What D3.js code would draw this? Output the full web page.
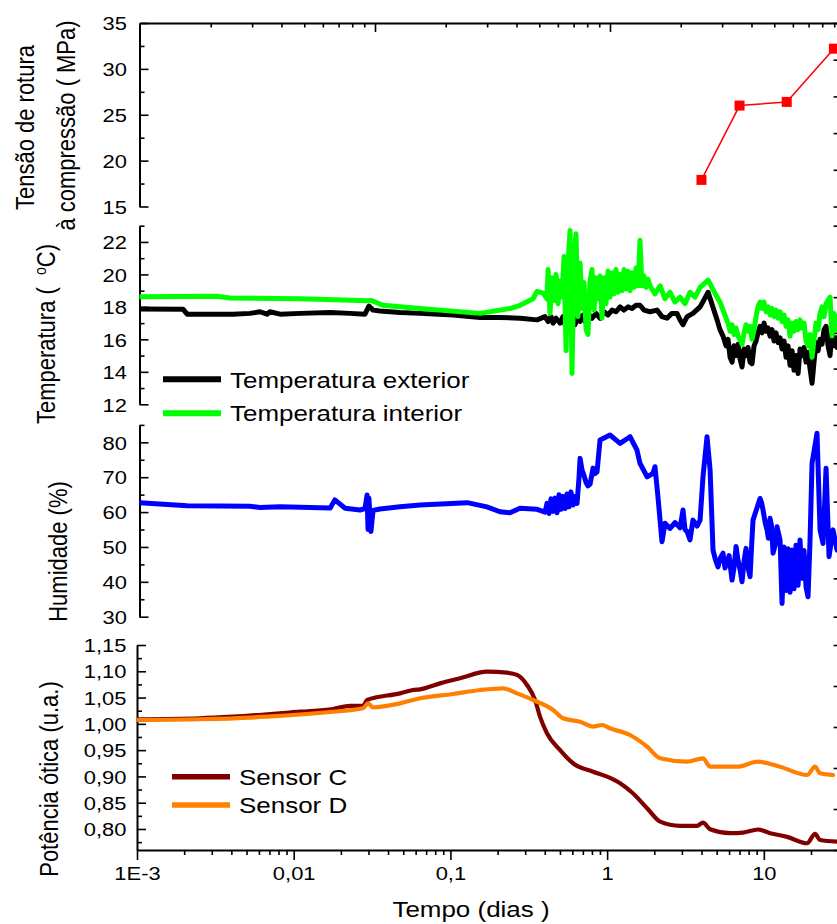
<!DOCTYPE html>
<html>
<head>
<meta charset="utf-8">
<script src="https://cdn.jsdelivr.net/npm/d3@7"></script>
<style>
  html, body { margin: 0; padding: 0; background: #fff; }
  svg { display: block; font-family: "Liberation Sans", Arial, sans-serif; }
  text { white-space: pre; fill: #000; }
</style>
</head>
<body>
<svg id="chart" width="837" height="924"></svg>
<script>
// ---------- data (time in days) ----------
const strengthDays = [4, 7, 14, 28];
const strengthMPa  = [17.9, 26.0, 26.4, 32.2];

const tempExterior = [
  [0.00100,17.87],[0.00197,17.85],[0.00209,17.55],[0.00410,17.55],[0.00526,17.6],[0.00610,17.7],
  [0.00675,17.55],[0.00706,17.7],[0.00818,17.55],[0.0110,17.6],[0.0171,17.65],[0.0229,17.6],
  [0.0285,17.55],[0.0302,18.05],[0.0321,17.8],[0.0355,17.75],[0.0477,17.65],[0.0640,17.6],
  [0.104,17.5],[0.155,17.35],[0.207,17.35],[0.278,17.3],[0.357,17.2],[0.401,17.4],[0.420,17.1],
  [0.438,17.4],[0.452,17.0],[0.472,17.3],[0.501,17.0],[0.523,17.4],[0.539,16.9],[0.563,17.3],
  [0.580,17.0],[0.606,17.4],[0.624,16.9],[0.652,17.5],[0.672,17.1],[0.702,17.5],[0.723,17.1],
  [0.755,17.6],[0.801,17.3],[0.850,17.6],[0.901,17.3],[0.956,17.7],[1.013,17.5],[1.075,17.8],
  [1.14,17.7],[1.21,18.0],[1.28,17.8],[1.36,18.0],[1.44,17.9],[1.53,18.1],[1.62,18.1],[1.72,17.8],
  [1.88,17.7],[2.08,17.8],[2.24,17.4],[2.41,17.3],[2.59,17.6],[2.79,17.6],[2.92,17.2],[3.05,16.9],
  [3.24,17.4],[3.53,17.6],[3.92,18.0],[4.41,18.9],
  [5.03,17.2],[5.25,16.6],[5.49,16.2],[5.74,15.6],[5.91,16.0],[6.09,14.9],[6.27,14.6],[6.45,15.6],
  [6.65,15.0],[6.85,15.7],[7.05,14.8],[7.26,14.3],[7.48,15.4],[7.70,15.0],[7.93,15.5],[8.17,14.6],
  [8.41,14.5],[8.66,15.6],[8.92,15.9],[9.18,16.4],[9.46,16.8],[9.74,16.4],[10.03,17.0],[10.33,16.5],
  [10.64,16.7],[10.96,16.2],[11.28,16.6],[11.62,15.9],[11.96,16.4],[12.32,15.8],[12.69,16.1],
  [13.07,15.4],[13.46,15.9],[13.86,14.9],[14.27,15.6],[14.70,14.4],[15.14,15.3],[15.58,14.1],
  [16.05,15.0],[16.54,13.9],[17.02,15.4],[17.53,15.0],[18.05,15.5],[18.59,14.6],[19.14,15.2],
  [19.72,14.2],[20.31,13.3],[20.91,14.6],[21.54,15.8],[22.18,15.3],[22.84,16.0],[23.52,15.7],
  [24.23,16.6],[24.95,16.8],[25.69,15.6],[26.45,15.0],[27.24,16.4],[28.05,15.6],[28.89,16.1],
  [29.32,15.5]
];

const tempInterior = [
  [0.00100,18.63],[0.00324,18.65],[0.00392,18.55],[0.0110,18.5],[0.0265,18.4],[0.0298,18.38],
  [0.0311,18.4],[0.0371,18.1],[0.0640,17.9],[0.155,17.6],[0.240,17.9],[0.278,18.1],[0.337,18.5],
  [0.357,18.95],[0.390,18.85],[0.413,18.5],
  [0.420,20.3],[0.432,17.6],[0.445,19.8],[0.459,18.4],[0.472,20.0],[0.486,18.2],[0.501,19.6],
  [0.516,18.6],[0.531,21.1],[0.547,15.3],[0.563,20.6],[0.580,22.7],[0.597,13.9],[0.615,21.0],
  [0.633,22.5],[0.652,17.4],[0.672,20.7],[0.692,17.9],[0.712,19.5],[0.734,16.6],[0.755,16.3],
  [0.778,19.6],[0.801,20.3],[0.825,17.8],[0.850,19.8],[0.875,18.5],[0.901,19.9],[0.928,17.3],
  [0.956,19.8],[0.984,18.2],[1.013,20.2],[1.043,18.6],[1.075,20.1],[1.107,18.8],[1.140,20.3],
  [1.174,18.9],[1.209,20.0],[1.245,19.0],[1.282,20.3],[1.320,19.1],[1.359,20.2],[1.400,19.0],
  [1.441,20.1],[1.484,19.2],[1.529,20.4],[1.574,19.3],[1.621,22.1],[1.669,19.3],[1.719,19.9],
  [1.770,19.2],[1.823,19.7],[1.877,19.3],[2.02,18.8],[2.18,19.3],[2.34,18.5],[2.52,18.9],
  [2.71,18.3],[2.92,18.6],[3.14,18.2],[3.38,18.9],[3.64,18.6],[3.92,19.2],[4.41,19.65],
  [5.03,18.6],[5.25,18.3],[5.49,17.8],[5.74,17.3],[5.91,17.0],[6.09,16.5],[6.27,16.9],[6.45,16.3],
  [6.65,16.7],[6.85,16.2],[7.05,16.0],[7.26,15.7],[7.48,16.4],[7.70,16.9],[7.93,16.5],[8.17,16.8],
  [8.41,16.0],[8.66,16.6],[8.92,17.4],[9.18,18.0],[9.46,18.3],[9.74,17.9],[10.03,18.3],[10.33,17.7],
  [10.64,18.0],[10.96,17.5],[11.28,17.9],[11.62,17.4],[11.96,17.8],[12.32,17.3],[12.69,17.7],
  [13.07,17.1],[13.46,17.5],[13.86,16.8],[14.27,17.2],[14.70,16.2],[15.14,17.0],[15.58,16.5],
  [16.05,17.1],[16.54,16.6],[17.02,17.2],[17.53,16.7],[18.05,17.0],[18.59,15.9],[19.14,15.6],
  [19.72,16.3],[20.31,14.9],[20.91,16.0],[21.54,17.0],[22.18,16.6],[22.84,17.6],[23.52,18.0],
  [24.23,17.4],[24.95,18.2],[25.69,18.4],[26.45,18.6],[27.24,16.2],[28.05,17.6],[28.89,16.6],
  [29.32,17.4]
];

const humidity = [
  [0.00104,62.7],[0.00209,61.8],[0.00526,61.7],[0.00610,61.3],[0.00818,61.5],[0.0110,61.4],
  [0.0171,61.2],[0.0183,63.5],[0.0213,61.1],[0.0265,60.6],[0.0285,61.0],[0.0294,64.9],[0.0298,55.0],
  [0.0302,64.0],[0.0311,54.4],[0.0321,60.5],[0.0355,60.9],[0.0477,61.5],[0.0640,62.0],[0.128,62.7],
  [0.171,61.5],[0.207,60.1],[0.240,59.8],[0.278,61.1],[0.357,60.8],
  [0.402,60.0],[0.4135,62.5],[0.426,59.6],[0.4385,63.8],[0.452,60.2],[0.465,64.0],[0.479,59.8],
  [0.493,65.0],[0.508,60.8],[0.523,64.5],[0.539,61.0],[0.555,65.2],[0.571,61.5],[0.588,65.8],
  [0.606,62.0],[0.624,64.5],[0.643,62.5],[0.662,70.0],[0.672,75.4],[0.692,72.0],[0.712,70.5],
  [0.734,68.5],[0.755,67.5],[0.778,68.0],[0.801,71.0],[0.813,72.6],[0.837,71.0],[0.862,71.5],
  [0.901,80.7],[1.043,82.1],[1.21,79.7],[1.40,81.6],[1.55,77.8],[1.62,74.0],[1.80,70.1],[1.96,71.1],
  [2.02,73.0],[2.11,64.4],[2.24,51.5],[2.34,56.8],[2.52,55.3],[2.71,57.0],[2.92,55.5],[3.05,60.6],
  [3.14,55.0],[3.24,54.4],[3.38,52.0],[3.53,57.7],[3.75,56.0],[3.92,57.7],[4.09,70.1],[4.34,81.6],
  [4.54,72.1],[4.74,49.1],[4.90,46.5],[5.10,44.3],[5.30,47.0],[5.49,48.2],[5.65,44.0],[5.82,45.3],
  [6.00,47.5],[6.27,40.5],[6.45,44.0],[6.65,50.1],[6.85,46.0],[7.05,43.5],[7.26,40.0],[7.48,46.0],
  [7.70,49.6],[7.93,44.0],[8.17,41.5],[8.35,50.0],[8.53,57.7],[9.46,63.9],[9.70,62.5],[9.88,60.6],
  [10.20,57.0],[10.48,54.9],[10.70,52.5],[10.96,58.2],[11.20,56.0],[11.45,48.2],[11.80,50.5],
  [12.14,55.8],[12.40,54.0],[12.69,52.0],[13.07,33.8],[13.46,50.0],[13.86,37.5],[14.27,49.5],
  [14.70,37.0],[15.14,49.1],[15.58,38.0],[16.05,50.5],[16.54,39.0],[17.02,52.0],[17.53,41.0],
  [18.05,49.0],[18.59,38.5],[19.14,35.7],[19.72,52.0],[20.31,74.0],[21.85,82.6],[22.84,54.9],
  [23.87,51.0],[24.95,72.6],[26.07,47.2],[27.65,54.9],[29.32,49.1]
];

const sensorC = [
  [0.00100,1.0087],[0.00252,1.0106],[0.00410,1.0136],[0.0110,1.0231],[0.0178,1.0283],[0.0229,1.034],
  [0.0277,1.034],[0.0294,1.0454],[0.0477,1.058],[0.0577,1.0644],[0.0640,1.0657],[0.0859,1.077],
  [0.115,1.0867],[0.171,1.0992],[0.230,1.0973],[0.266,1.093],[0.308,1.074],[0.347,1.0454],
  [0.373,1.0136],[0.413,0.982],[0.501,0.950],[0.606,0.925],[0.813,0.909],[0.999,0.8995],[1.21,0.887],
  [1.46,0.868],[1.80,0.8394],[2.18,0.814],[2.92,0.806],[3.75,0.806],[4.09,0.812],[4.54,0.7994],
  [6.09,0.792],[7.37,0.793],[9.18,0.799],[10.96,0.792],[14.07,0.785],[18.87,0.7728],[21.22,0.7905],
  [22.84,0.779],[29.32,0.776]
];

const sensorD = [
  [0.00100,1.0073],[0.00252,1.0087],[0.00675,1.0136],[0.0178,1.023],[0.0277,1.0296],[0.0298,1.039],
  [0.0321,1.0315],[0.0477,1.039],[0.0640,1.0486],[0.104,1.0568],[0.155,1.0644],[0.217,1.0676],
  [0.266,1.058],[0.337,1.0454],[0.452,1.0264],[0.523,1.0106],[0.672,1.0041],[0.813,0.9946],
  [0.928,0.9978],[1.043,0.9915],[1.40,0.9788],[1.80,0.9566],[2.18,0.9345],[3.24,0.928],[4.09,0.9345],
  [4.54,0.9185],[6.75,0.9185],[9.18,0.928],[12.69,0.9185],[18.87,0.9027],[21.22,0.9185],
  [22.84,0.906],[27.65,0.9027]
];

// ---------- tick values and labels ----------
const timeTicks  = [0.001, 0.01, 0.1, 1, 10];
const timeLabels = ["1E-3", "0,01", "0,1", "1", "10"];
const strengthTicks  = [15, 20, 25, 30, 35];
const strengthLabels = ["15", "20", "25", "30", "35"];
const tempTicks  = [12, 14, 16, 18, 20, 22];
const tempLabels = ["12", "14", "16", "18", "20", "22"];
const humTicks  = [30, 40, 50, 60, 70, 80];
const humLabels = ["30", "40", "50", "60", "70", "80"];
const powTicks  = [0.80, 0.85, 0.90, 0.95, 1.00, 1.05, 1.10, 1.15];
const powLabels = ["0,80", "0,85", "0,90", "0,95", "1,00", "1,05", "1,10", "1,15"];

// ---------- layout ----------
const SX = 1.18;            // horizontal aspect of the lettering
const TICK_FONT = 18.6;
const TITLE_FONT = 22;
const RIGHT = 838.6;

const svg = d3.select("#chart");
svg.append("rect").attr("width", 837).attr("height", 924).attr("fill", "#fff");

const x = d3.scaleLog().domain([0.001, 30]).range([137, RIGHT]);
const xTop = d3.scaleLog().domain([1, 1000]).range([140, 845]);

const yStrength = d3.scaleLinear().domain([15, 35]).range([206.5, 23]);
const yTemp = d3.scaleLinear().domain([12, 23]).range([404.3, 225.7]);
const yHum = d3.scaleLinear().domain([30, 85]).range([616.7, 424.9]);
const yPow = d3.scaleLinear().domain([0.76, 1.15]).range([850, 645]);

const minorLog = (lo, hi) => {
  const out = [];
  for (let p = lo; p < hi; p++) for (let m = 2; m <= 9; m++) out.push(m * Math.pow(10, p));
  return out;
};

function styleAxis(g) {
  g.attr("font-family", null).attr("font-size", TICK_FONT);
  g.selectAll(".tick line").attr("stroke", "#000").attr("stroke-width", 1.6);
  g.selectAll(".domain").attr("stroke", "#000").attr("stroke-width", 2);
  g.selectAll(".tick text").attr("fill", "#000");
}

function stretchTickText(g) {
  g.selectAll(".tick text").each(function () {
    const t = d3.select(this);
    const tx = +t.attr("x") || 0, ty = +t.attr("y") || 0;
    t.attr("x", 0).attr("y", 0).attr("transform", `translate(${tx},${ty}) scale(${SX},1)`);
  });
}

function leftAxis(scale, xPos, majors, labels, minors, pad) {
  const g = svg.append("g").attr("transform", `translate(${xPos},0)`);
  g.call(d3.axisLeft(scale).tickValues(majors).tickSize(-9).tickSizeOuter(0)
    .tickPadding(pad).tickFormat((d, i) => labels[i]));
  const gm = g.append("g").call(d3.axisLeft(scale).tickValues(minors).tickSize(-5).tickFormat(() => ""));
  gm.select(".domain").remove();
  styleAxis(g);
  g.selectAll(".tick text").attr("dy", "0.36em");
  stretchTickText(g);
}

function rightTicks(scale) {
  const r = d3.scaleLinear().domain([0, 5]).range(scale.range());
  const g = svg.append("g").attr("transform", `translate(${RIGHT},0)`)
    .call(d3.axisLeft(r).tickValues([0, 1, 2, 3, 4, 5]).tickSize(5).tickFormat(() => ""));
  g.select(".domain").remove();
  styleAxis(g);
}

// left axes
leftAxis(yStrength, 139.5, strengthTicks, strengthLabels, [17.5, 22.5, 27.5, 32.5], 12.5);
leftAxis(yTemp, 139.5, tempTicks, tempLabels, [13, 15, 17, 19, 21, 23], 12.5);
leftAxis(yHum, 139.5, humTicks, humLabels, [35, 45, 55, 65, 75, 85], 12.5);
leftAxis(yPow, 137, powTicks, powLabels, [0.775, 0.825, 0.875, 0.925, 0.975, 1.025, 1.075, 1.125], 10.5);

// right-side ticks
[yStrength, yTemp, yHum, yPow].forEach(rightTicks);

// top axis of the upper panel
{
  const g = svg.append("g").attr("transform", "translate(0,23)");
  g.call(d3.axisTop(xTop).tickValues([10, 100]).tickSize(-9).tickSizeOuter(0).tickFormat(() => ""));
  const gm = g.append("g").call(d3.axisTop(xTop).tickValues(minorLog(0, 3)).tickSize(-4.5).tickFormat(() => ""));
  gm.select(".domain").remove();
  styleAxis(g);
}

// bottom time axis
{
  const g = svg.append("g").attr("transform", "translate(0,850)");
  g.call(d3.axisBottom(x).tickValues(timeTicks).tickSize(10).tickSizeOuter(0)
    .tickFormat((d, i) => timeLabels[i]));
  const gm = g.append("g").call(d3.axisBottom(x).tickValues(minorLog(-3, 2).filter(v => v <= 30)).tickSize(5).tickFormat(() => ""));
  gm.select(".domain").remove();
  styleAxis(g);
  g.selectAll(".tick text").attr("y", 30).attr("dy", 0);
  stretchTickText(g);
}

// ---------- series ----------
function clipFor(id, scale, left) {
  const r = scale.range();
  svg.append("clipPath").attr("id", id).append("rect")
    .attr("x", left).attr("y", r[1] - 3).attr("width", RIGHT - left).attr("height", r[0] - r[1] + 6);
  return `url(#${id})`;
}

function drawLine(data, scale, color, width, clip, curve) {
  svg.append("path").datum(data)
    .attr("clip-path", clip)
    .attr("fill", "none").attr("stroke", color).attr("stroke-width", width)
    .attr("stroke-linejoin", "round").attr("stroke-linecap", "round")
    .attr("d", d3.line().curve(curve || d3.curveLinear).x(d => x(d[0])).y(d => scale(d[1])));
}

const clipT = clipFor("clipT", yTemp, 139.5);
const clipH = clipFor("clipH", yHum, 139.5);
const clipP = clipFor("clipP", yPow, 137);

drawLine(tempExterior, yTemp, "#000000", 5, clipT);
drawLine(tempInterior, yTemp, "#00ff00", 5, clipT);
drawLine(humidity, yHum, "#0000ff", 5, clipH);
drawLine(sensorC, yPow, "#800000", 4.2, clipP, d3.curveMonotoneX);
drawLine(sensorD, yPow, "#ff8000", 4.2, clipP, d3.curveMonotoneX);

// compressive strength
{
  const pts = strengthDays.map((d, i) => [d, strengthMPa[i]]);
  svg.append("path").datum(pts)
    .attr("fill", "none").attr("stroke", "#ff0000").attr("stroke-width", 1.5)
    .attr("d", d3.line().x(d => x(d[0])).y(d => yStrength(d[1])));
  svg.selectAll(".sq").data(pts).join("rect").attr("class", "sq")
    .attr("x", d => x(d[0]) - 5).attr("y", d => yStrength(d[1]) - 5)
    .attr("width", 10).attr("height", 10).attr("fill", "#ff0000");
}

// ---------- titles ----------
function vTitle(xBase, yMid, build) {
  const t = svg.append("text")
    .attr("transform", `translate(${xBase},${yMid}) scale(${SX},1) rotate(-90)`)
    .attr("text-anchor", "middle").attr("font-size", TITLE_FONT);
  build(t);
  return t;
}

vTitle(33.5, 127.5, t => t.text("Tensão de rotura"));
vTitle(75, 125.5, t => t.text("à compressão ( MPa)"));
vTitle(55, 334, t => {
  t.append("tspan").text("Temperatura (  ");
  t.append("tspan").attr("dy", -8).attr("font-size", 14).text("o");
  t.append("tspan").attr("dy", 8).text("C)");
});
vTitle(66.5, 551.5, t => t.text("Humidade (%)"));
vTitle(58, 779, t => t.text("Potência ótica (u.a.)"));

svg.append("text")
  .attr("transform", `translate(471,917) scale(${SX},1)`)
  .attr("text-anchor", "middle").attr("font-size", TITLE_FONT)
  .text("Tempo (dias )");

// ---------- legends ----------
function legendItem(x0, x1, yLine, yText, color, width, label) {
  svg.append("line").attr("x1", x0).attr("x2", x1).attr("y1", yLine).attr("y2", yLine)
    .attr("stroke", color).attr("stroke-width", width);
  svg.append("text").attr("transform", `translate(${x1 + 9},${yText}) scale(${SX},1)`)
    .attr("font-size", TITLE_FONT).text(label);
}

legendItem(163, 221, 379.3, 387.7, "#000000", 6, "Temperatura exterior");
legendItem(163, 221, 413.3, 420.7, "#00ff00", 6, "Temperatura interior");
legendItem(172, 230, 776.7, 784.5, "#800000", 5.5, "Sensor C");
legendItem(172, 230, 805, 812.7, "#ff8000", 5.5, "Sensor D");
</script>
</body>
</html>
